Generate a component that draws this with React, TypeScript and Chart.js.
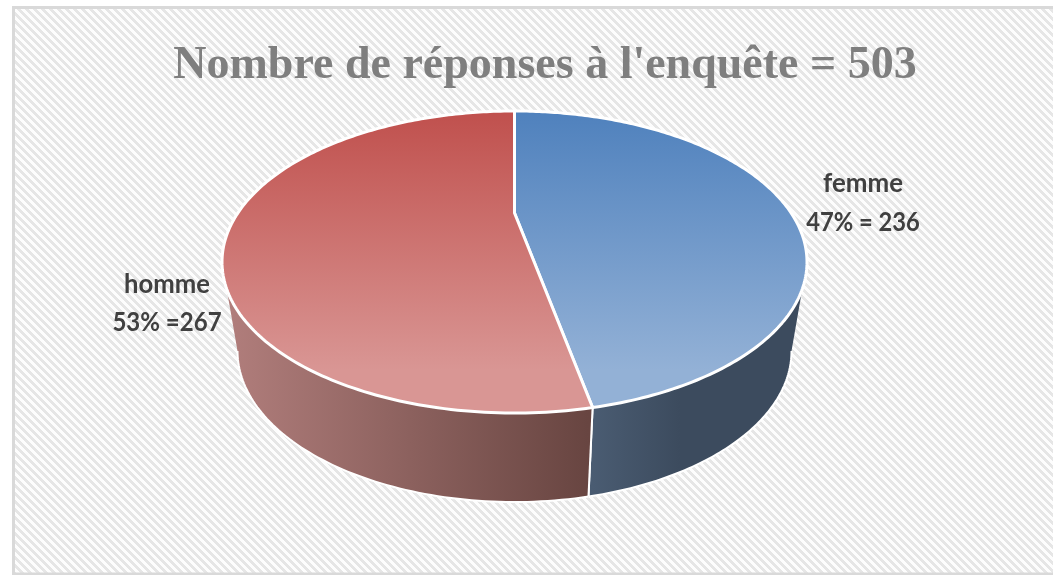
import React, { useEffect, useRef } from "react";
import { Chart, registerables } from "chart.js";

Chart.register(...registerables);

const categories = ["femme", "homme"];
const responses = [236, 267];
const sliceLabels = [
  ["femme", "47% = 236"],
  ["homme", "53% =267"],
];
const titleText = "Nombre de réponses à l'enquête = 503";

const CX = 514.5;
const C = -98 / 302;
const A = 66;
const B = 213;
const K = 292.5 * Math.sqrt(1 - C * C);
const DEPTH = 89;
const WALL_SHRINK = 277 / 292.5;
const TANGENT = Math.acos(C);

// Perspective projection of a point of the unit disc on the pie's tilted top
function project(phi: number, r = 1) {
  const u = r * Math.sin(phi);
  const v = -r * Math.cos(phi);
  const w = 1 + C * v;
  return { x: CX + (K * u) / w, y: (A * v + B) / w };
}
function lower(p: { x: number; y: number }) {
  return { x: CX + (p.x - CX) * WALL_SHRINK, y: p.y + DEPTH };
}

const threeD = {
  id: "threeD",
  beforeDraw(chart: any) {
    const ctx = chart.ctx;
    const tile = document.createElement("canvas");
    tile.width = 8;
    tile.height = 8;
    const t = tile.getContext("2d")!;
    for (let y = 0; y < 8; y++) {
      for (let x = 0; x < 8; x++) {
        const d = (x - y + 16) % 8;
        t.fillStyle = d < 4 ? "#e6e6e6" : "#fdfdfd";
        t.fillRect(x, y, 1, 1);
      }
    }
    ctx.save();
    ctx.fillStyle = "#ffffff";
    ctx.fillRect(0, 0, chart.width, chart.height);
    ctx.fillStyle = ctx.createPattern(tile, "repeat");
    ctx.fillRect(13, 7, chart.width - 13, 567);
    ctx.strokeStyle = "#d9d9d9";
    ctx.lineWidth = 3;
    ctx.beginPath();
    ctx.moveTo(chart.width + 5, 7.5);
    ctx.lineTo(13.5, 7.5);
    ctx.lineTo(13.5, 574);
    ctx.lineTo(chart.width + 5, 574);
    ctx.stroke();
    ctx.restore();
  },
  beforeDatasetDraw(chart: any) {
    const ctx = chart.ctx;
    const meta = chart.getDatasetMeta(0);
    const arcs = meta.data;
    const angles = arcs.map((a: any) => [a.startAngle + Math.PI / 2, a.endAngle + Math.PI / 2]);
    const wallStops = [
      [592, "#4a5c72", 680, "#3c4b5e"],
      [232, "#b07d7b", 588, "#684541"],
    ] as any[];
    const faceStops = [
      ["#4f81bd", "#93b1d6"],
      ["#c0504d", "#d99694"],
    ];

    ctx.save();
    // walls
    angles.forEach(([s, e]: number[], i: number) => {
      const lo = Math.max(s, TANGENT);
      const hi = Math.min(e, 2 * Math.PI - TANGENT);
      if (hi <= lo) return;
      const pts: any[] = [];
      const n = 80;
      for (let k = 0; k <= n; k++) pts.push(project(lo + ((hi - lo) * k) / n));
      const g = ctx.createLinearGradient(wallStops[i][0], 0, wallStops[i][2], 0);
      g.addColorStop(0, wallStops[i][1]);
      g.addColorStop(1, wallStops[i][3]);
      ctx.beginPath();
      pts.forEach((p, k) => (k ? ctx.lineTo(p.x, p.y) : ctx.moveTo(p.x, p.y)));
      [...pts].reverse().forEach((p) => {
        const q = lower(p);
        ctx.lineTo(q.x, q.y);
      });
      ctx.closePath();
      ctx.fillStyle = g;
      ctx.fill();
      ctx.strokeStyle = "#ffffff";
      ctx.lineWidth = 2;
      ctx.lineJoin = "round";
      ctx.beginPath();
      [...pts].reverse().forEach((p, k) => {
        const q = lower(p);
        k ? ctx.lineTo(q.x, q.y) : ctx.moveTo(q.x, q.y);
      });
      ctx.stroke();
      const split = project(e > Math.PI ? s : e);
      const sq = lower(split);
      ctx.beginPath();
      ctx.moveTo(split.x, split.y);
      ctx.lineTo(sq.x, sq.y);
      ctx.stroke();
    });
    // top faces
    angles.forEach(([s, e]: number[], i: number) => {
      const g = ctx.createLinearGradient(0, 111, 0, 370);
      g.addColorStop(0, faceStops[i][0]);
      g.addColorStop(1, faceStops[i][1]);
      const c = project(0, 0);
      ctx.beginPath();
      ctx.moveTo(c.x, c.y);
      const n = 200;
      for (let k = 0; k <= n; k++) {
        const p = project(s + ((e - s) * k) / n);
        ctx.lineTo(p.x, p.y);
      }
      ctx.closePath();
      ctx.fillStyle = g;
      ctx.fill();
      ctx.strokeStyle = "#ffffff";
      ctx.lineWidth = 3;
      ctx.lineJoin = "round";
      ctx.stroke();
    });
    ctx.restore();
    return false;
  },
  afterDatasetsDraw(chart: any) {
    const ctx = chart.ctx;
    const places = [
      [863, 183, 222, 0.96, 0.88],
      [167, 284, 322, 0.95, 0.89],
    ];
    ctx.fillStyle = "#404040";
    ctx.font = "bold 27px Lato";
    ctx.textAlign = "center";
    ctx.textBaseline = "middle";
    sliceLabels.forEach((lines, i) => {
      const [x, y1, y2, s1, s2] = places[i];
      ctx.save();
      ctx.translate(x, y1);
      ctx.scale(s1, 1);
      ctx.fillText(lines[0], 0, 0);
      ctx.restore();
      ctx.save();
      ctx.translate(x, y2);
      ctx.scale(s2, 1);
      ctx.fillText(lines[1], 0, 0);
      ctx.restore();
    });
  },
};

export default function App() {
  const ref = useRef<HTMLCanvasElement>(null);
  useEffect(() => {
    const chart = new Chart(ref.current!, {
      type: "pie",
      data: {
        labels: categories,
        datasets: [{ data: responses, backgroundColor: ["#4f81bd", "#c0504d"] }],
      },
      plugins: [threeD],
      options: {
        responsive: false,
        animation: false,
        layout: { padding: { left: 37 } },
        plugins: {
          legend: { display: false },
          tooltip: { enabled: false },
          title: {
            display: true,
            text: titleText,
            color: "#7f7f7f",
            font: { family: "'Liberation Serif'", weight: "bold", size: 46 },
            padding: { top: 39, bottom: 10 },
          },
        },
      },
    } as any);
    return () => chart.destroy();
  }, []);
  return (
    <div style={{ position: "fixed", left: 0, top: 0, width: 1053, height: 575 }}>
      <canvas ref={ref} width={1053} height={575} style={{ display: "block", filter: "blur(0.5px)" }} />
    </div>
  );
}
